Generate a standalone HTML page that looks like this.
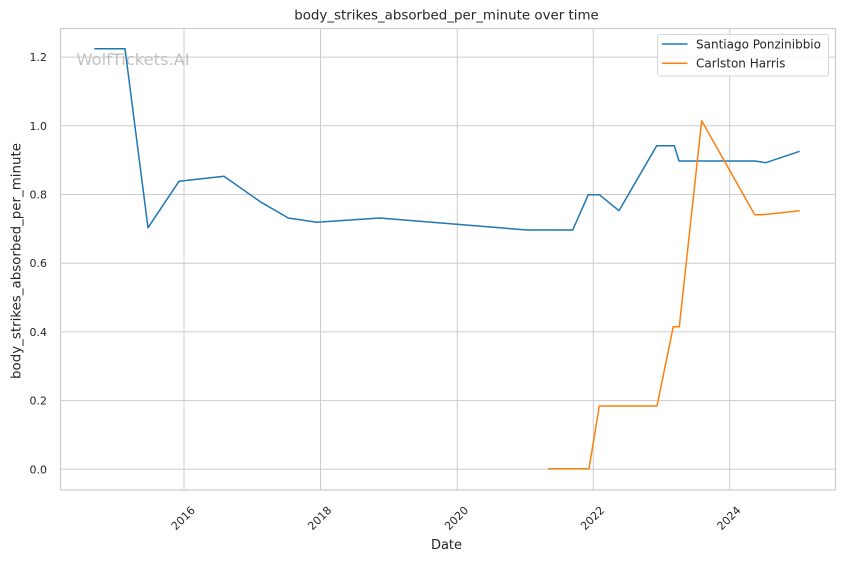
<!DOCTYPE html>
<html>
<head>
<meta charset="utf-8">
<style>
  html,body{margin:0;padding:0;background:#fff;}
  svg{display:block;font-family:"DejaVu Sans","Liberation Sans",sans-serif;}
</style>
</head>
<body>
<svg width="844" height="561" viewBox="0 0 844 561" xmlns="http://www.w3.org/2000/svg">
  <rect x="0" y="0" width="844" height="561" fill="#ffffff"/>
  <!-- grid -->
  <g stroke="#cccccc" stroke-width="1" fill="none">
    <line x1="60" y1="469.3" x2="836" y2="469.3"/>
    <line x1="60" y1="400.6" x2="836" y2="400.6"/>
    <line x1="60" y1="331.9" x2="836" y2="331.9"/>
    <line x1="60" y1="263.2" x2="836" y2="263.2"/>
    <line x1="60" y1="194.5" x2="836" y2="194.5"/>
    <line x1="60" y1="125.8" x2="836" y2="125.8"/>
    <line x1="60" y1="57.1" x2="836" y2="57.1"/>
    <line x1="184" y1="28" x2="184" y2="490"/>
    <line x1="320.5" y1="28" x2="320.5" y2="490"/>
    <line x1="457.3" y1="28" x2="457.3" y2="490"/>
    <line x1="593.3" y1="28" x2="593.3" y2="490"/>
    <line x1="729.7" y1="28" x2="729.7" y2="490"/>
  </g>
  <!-- spines -->
  <rect x="60.5" y="28.5" width="775" height="461.5" fill="none" stroke="#cccccc" stroke-width="1.2"/>

  <!-- watermark -->
  <text x="76.5" y="65" font-size="16.3" fill="#bbbbbb" fill-opacity="0.9">WolfTickets.AI</text>

  <!-- series -->
  <polyline fill="none" stroke="#1f77b4" stroke-width="1.5" stroke-linejoin="round"
    points="94.3,48.7 125,48.7 148,227.7 179,181.3 224,176.3 261,202.2 288.3,218 316.7,222.3 380,218 526.7,230 572.7,230 588.3,194.7 599.3,194.7 619,210.7 656.7,145.7 674.3,145.7 679,161 754.7,161 765.7,162.7 799.7,151.3"/>
  <polyline fill="none" stroke="#ff7f0e" stroke-width="1.5" stroke-linejoin="round"
    points="548,468.7 589,468.7 599.3,406 657,406 673.3,326.7 679.3,326.7 701.7,120.7 754.7,214.7 762.3,214.7 799.7,210.7"/>

  <!-- y tick labels -->
  <g font-size="11" fill="#262626" text-anchor="end">
    <text x="47" y="473.3">0.0</text>
    <text x="47" y="404.6">0.2</text>
    <text x="47" y="335.9">0.4</text>
    <text x="47" y="267.2">0.6</text>
    <text x="47" y="198.5">0.8</text>
    <text x="47" y="129.8">1.0</text>
    <text x="47" y="61.1">1.2</text>
  </g>
  <!-- x tick labels -->
  <g font-size="11" fill="#262626" text-anchor="middle">
    <text transform="translate(183,518) rotate(-45)" y="4">2016</text>
    <text transform="translate(319.5,518) rotate(-45)" y="4">2018</text>
    <text transform="translate(456.3,518) rotate(-45)" y="4">2020</text>
    <text transform="translate(592.3,518) rotate(-45)" y="4">2022</text>
    <text transform="translate(728.7,518) rotate(-45)" y="4">2024</text>
  </g>

  <!-- axis labels & title -->
  <text x="446.5" y="549" font-size="13" fill="#262626" text-anchor="middle">Date</text>
  <text transform="translate(20.5,261) rotate(-90)" font-size="13.4" fill="#262626" text-anchor="middle">body_strikes_absorbed_per_minute</text>
  <text x="446.5" y="19.5" font-size="13.4" fill="#262626" text-anchor="middle">body_strikes_absorbed_per_minute over time</text>

  <!-- legend -->
  <rect x="657.5" y="34.5" width="171" height="41.5" rx="2.5" ry="2.5" fill="#ffffff" fill-opacity="0.8" stroke="#d6d6d6" stroke-width="1"/>
  <line x1="662" y1="44" x2="687.5" y2="44" stroke="#1f77b4" stroke-width="1.5"/>
  <line x1="662" y1="63.3" x2="687.5" y2="63.3" stroke="#ff7f0e" stroke-width="1.5"/>
  <g font-size="12" fill="#262626">
    <text x="696" y="48.3">Santiago Ponzinibbio</text>
    <text x="696" y="67.6">Carlston Harris</text>
  </g>
</svg>
</body>
</html>
